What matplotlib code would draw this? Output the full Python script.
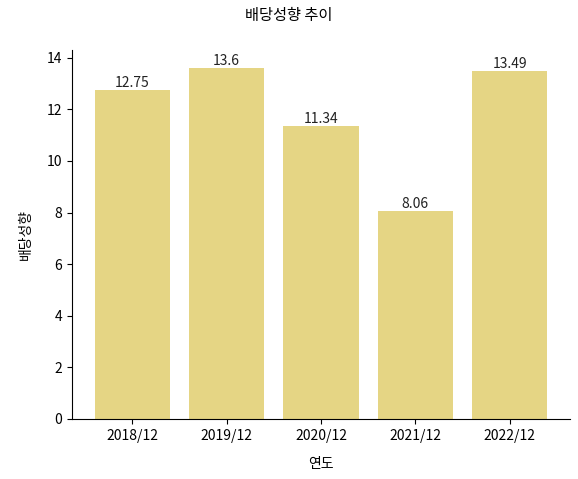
import matplotlib
matplotlib.use("Agg")
import matplotlib.pyplot as plt

plt.rcParams['font.family'] = ['Noto Sans CJK KR', 'DejaVu Sans']

years = ["2018/12", "2019/12", "2020/12", "2021/12", "2022/12"]
values = [12.75, 13.6, 11.34, 8.06, 13.49]

fig = plt.figure(figsize=(5.78, 4.79), dpi=100)
ax = fig.add_axes([72/578, 60/479, 498/578, 370/479])
ax.set_position([72/578, (479-419)/479, (570-72)/578, (419-50)/479])
bars = ax.bar(years, values, width=0.8, color="#e5d584")
for b, v in zip(bars, values):
    ax.text(b.get_x() + b.get_width()/2, v, f"{v:g}", ha="center", va="bottom", fontsize=10, color="#222222")
ax.set_ylim(0, 14.3)
ax.set_yticks(range(0, 15, 2))
ax.spines['top'].set_visible(False)
ax.spines['right'].set_visible(False)
ax.tick_params(labelsize=10)
ax.set_xlabel("연도", fontsize=10, labelpad=10)
ax.set_ylabel("배당성향", fontsize=10, labelpad=10)
fig.suptitle("배당성향 추이", fontsize=11, y=0.985)
fig.savefig("out.png", dpi=100)
